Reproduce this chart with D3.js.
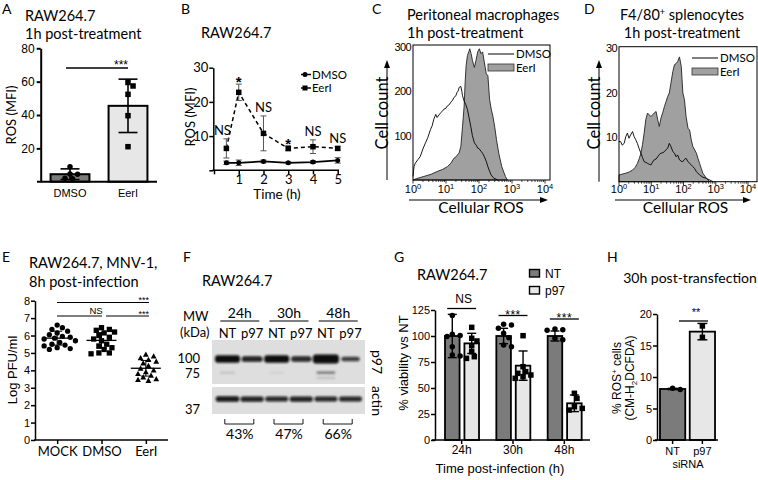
<!DOCTYPE html>
<html><head><meta charset="utf-8">
<script src="https://cdn.jsdelivr.net/npm/d3@7"></script>
<style>body{margin:0;background:#fff}svg{display:block}</style>
</head><body>
<svg id="c" width="758" height="480"></svg>
<script>
// ================= DATA =================
// A
const aCats = ["DMSO", "EerI"];
const aMean = [4.5, 45.5];
const aSD = [3.2, 16];
const aPts = [[9, 4.6, 4.4, 2.0, 1.7], [59.5, 57.4, 52.4, 39.6, 21]];
const aTicks = [20, 40, 60, 80];
// B
const bTime = [0.5, 1, 2, 3, 4, 5];
const bDMSO = [2.2, 2.2, 2.6, 2.2, 2.4, 2.9];
const bDMSOsd = [0.5, 0.8, 0.4, 0.3, 0.4, 0.8];
const bEerI = [6.4, 22.8, 10.8, 6.4, 6.9, 6.4];
const bEerIsd = [2.8, 2.4, 5.1, 0.7, 2.0, 0.5];
const bSig = ["NS", "*", "NS", "*", "NS", "NS"];
const bYTicks = [0, 10, 20, 30];
const bXTicks = [0, 1, 2, 3, 4, 5];
// C  [log10 ROS, cell count]
const cDMSO = [[0,8],[0.03,30],[0.07,38],[0.15,46],[0.22,53],[0.3,70],[0.38,84],[0.45,96],[0.53,114],[0.58,122],[0.63,137],[0.69,148],[0.73,141],[0.79,147],[0.84,152],[0.9,156],[0.94,160],[1.0,162],[1.04,167],[1.1,170],[1.14,175],[1.2,180],[1.24,186],[1.3,190],[1.33,197],[1.37,201],[1.4,209],[1.45,211],[1.48,200],[1.5,190],[1.55,178],[1.6,170],[1.65,159],[1.7,140],[1.75,121],[1.8,100],[1.86,84],[1.92,78],[1.96,72],[2.01,70],[2.06,65],[2.11,60],[2.16,53],[2.22,42],[2.27,30],[2.32,20],[2.37,11],[2.45,4],[2.57,0]];
const cEerI = [[0,0],[0.1,3],[0.33,8],[0.55,13],[0.73,19],[0.9,24],[1.04,30],[1.15,38],[1.24,49],[1.3,52],[1.36,58],[1.40,61],[1.45,76],[1.5,120],[1.55,167],[1.58,220],[1.61,258],[1.65,281],[1.69,289],[1.72,296],[1.76,285],[1.8,270],[1.86,254],[1.91,270],[1.96,289],[2.01,296],[2.06,285],[2.11,289],[2.16,266],[2.22,240],[2.27,235],[2.32,182],[2.37,160],[2.42,144],[2.48,118],[2.53,91],[2.6,60],[2.69,30],[2.8,8],[2.86,0]];
const cYTicks = [100, 200, 300];
// D
const dDMSO = [[0,9],[0.05,9.0],[0.1,8.2],[0.16,8.6],[0.21,10.1],[0.26,10.9],[0.31,9.75],[0.36,10.5],[0.42,11.25],[0.47,10.1],[0.52,9.4],[0.57,8.6],[0.62,7.5],[0.68,6.4],[0.73,5.4],[0.78,4.5],[0.84,4.3],[0.89,4.1],[0.94,3.9],[0.99,3.75],[1.04,4.4],[1.09,4.9],[1.15,5.1],[1.2,5.6],[1.25,6.1],[1.3,6.4],[1.36,6.5],[1.41,6.75],[1.46,7.2],[1.51,7.5],[1.56,8.6],[1.61,7.9],[1.67,6.75],[1.72,6.4],[1.77,5.6],[1.82,6.0],[1.875,4.9],[1.93,4.6],[1.98,4.5],[2.03,5.0],[2.08,5.25],[2.13,4.6],[2.19,4.1],[2.24,3.8],[2.29,3.4],[2.35,2.9],[2.4,2.25],[2.5,1.5],[2.6,1.0],[2.71,0.75],[2.92,0]];
const dEerI = [[0,1.5],[0.1,1.7],[0.21,1.9],[0.32,2.2],[0.42,2.6],[0.5,3.2],[0.57,4.1],[0.63,5.2],[0.68,6.4],[0.73,8.4],[0.78,10.9],[0.83,13.9],[0.885,15.4],[0.94,15.0],[0.99,14.6],[1.04,15.0],[1.09,15.4],[1.15,15.75],[1.2,13.9],[1.25,12.4],[1.30,14.25],[1.36,15.6],[1.41,16.9],[1.46,18.0],[1.51,19.1],[1.56,19.9],[1.61,22.1],[1.67,24.75],[1.72,26.25],[1.77,26.5],[1.82,27.0],[1.875,28.0],[1.93,25.9],[1.98,19.9],[2.03,18.4],[2.08,14.6],[2.14,12.0],[2.19,11.6],[2.24,9.4],[2.29,7.9],[2.35,7.1],[2.4,6.4],[2.45,5.2],[2.5,4.1],[2.55,3.0],[2.6,1.9],[2.71,0.75],[2.81,0]];
const dYTicks = [10, 20, 30];
const logDecades = [0, 1, 2, 3, 4];
// E
const eCats = ["MOCK", "DMSO", "EerI"];
const eMOCK = [6.6,6.45,6.35,6.25,6.15,6.05,5.95,5.9,5.85,5.8,5.7,5.6,5.5,5.45,5.4,5.3,5.25,5.2];
const eDMSO = [6.45,6.35,6.3,6.2,6.15,6.0,5.9,5.8,5.7,5.5,5.4,5.3,5.2,5.0,5.0,4.95];
const eEerI = [4.9,4.8,4.7,4.6,4.5,4.4,4.25,4.1,4.0,3.9,3.8,3.7,3.6,3.5,3.45,3.4];
const eMean = [5.85, 5.72, 4.12];
const eSD = [0.4, 0.45, 0.45];
const eTicks = [0,1,2,3,4,5,6,7,8];
// F
const fTimes = ["24h", "30h", "48h"];
const fLanes = ["NT", "p97", "NT", "p97", "NT", "p97"];
const fP97 = [1.0, 0.6, 1.0, 0.55, 1.3, 0.35];
const fBand75 = [0.12, 0, 0.06, 0, 0.55, 0];
const fActin = [0.85, 0.75, 0.7, 0.75, 0.7, 0.7];
const fPct = ["43%", "47%", "66%"];
const fMW = ["100", "75", "37"];
// G
const gGroups = ["24h", "30h", "48h"];
const gSeries = ["NT", "p97"];
const gMean = [[100, 92.9], [100, 71.5], [100, 35.3]];
const gSD = [[20.8, 9.7], [7.4, 14.1], [4.8, 8]];
const gPts = [
  [[119.6,101.6,99.4,100.5,89.7,81.7,80.8], [108.3,97.8,95.2,90.7,84.9,80.1,78.5]],
  [[111.2,110.6,107.4,102.6,98.4,91.3,89.7], [100.3,70.5,65.7,64.1,62.5,60.9,59.3]],
  [[106.7,106,105.5,97.8,96.5], [44.9,40,32,30.4,28.8]]
];
const gSig = ["NS", "***", "***"];
const gTicks = [0, 25, 50, 75, 100, 125];
// H
const hCats = ["NT", "p97"];
const hMean = [8.1, 17.2];
const hSD = [0.1, 1.3];
const hPts = [[8.2, 8.0], [18.1, 16.3]];
const hTicks = [0, 5, 10, 15, 20];

// ================= HELPERS =================
const svg = d3.select("#c");
const AR = '"Liberation Sans", Arial, sans-serif';
const LT = 'Lato, "Open Sans", sans-serif';
const DARK = "#7b7b7b", LIGHT = "#e7e7e7", HIST = "#a0a0a0";

function T(x, y, s, o = {}) {
  const t = svg.append("text").attr("x", x).attr("y", y).text(s)
    .attr("font-family", o.ff || LT).attr("font-size", o.fs || 14)
    .attr("text-anchor", o.a || "start").attr("fill", "#000");
  if (o.rot) t.attr("transform", `rotate(${o.rot},${x},${y})`);
  if (o.ls) t.attr("letter-spacing", o.ls);
  if (o.fw) t.attr("font-weight", o.fw);
  return t;
}
function styleAxis(ax, ff, fs, sw) {
  ax.select(".domain").attr("stroke-width", sw);
  ax.selectAll(".tick line").attr("stroke-width", sw);
  ax.selectAll("text").attr("font-family", ff).attr("font-size", fs).attr("fill", "#000");
}
function swarm(vals, y, cx, r) {
  const placed = [], out = [];
  const order = vals.map((v, i) => i).sort((a, b) => vals[b] - vals[a]);
  for (const i of order) {
    const yy = y(vals[i]);
    let k = 0, xx;
    while (true) {
      const off = k === 0 ? 0 : Math.ceil(k / 2) * (k % 2 ? 1 : -1) * r * 0.9;
      xx = cx + off;
      if (placed.every(p => (p.x - xx) ** 2 + (p.y - yy) ** 2 >= (1.9 * r) ** 2)) break;
      k++;
    }
    placed.push({ x: xx, y: yy }); out[i] = { x: xx, y: yy };
  }
  return out;
}
function marker(g, shape, x, y, s) {
  if (shape === "circle") g.append("circle").attr("cx", x).attr("cy", y).attr("r", s / 2).attr("fill", "#000");
  else if (shape === "square") g.append("rect").attr("x", x - s / 2).attr("y", y - s / 2).attr("width", s).attr("height", s).attr("fill", "#000");
  else g.append("path").attr("d", `M${x},${y - s * 0.6}L${x + s * 0.55},${y + s * 0.4}L${x - s * 0.55},${y + s * 0.4}Z`).attr("fill", "#000");
}
function errBar(g, x, y1, y2, cap, sw, col) {
  g.append("line").attr("x1", x).attr("x2", x).attr("y1", y1).attr("y2", y2).attr("stroke", col || "#000").attr("stroke-width", sw);
  [y1, y2].forEach(yy => g.append("line").attr("x1", x - cap / 2).attr("x2", x + cap / 2).attr("y1", yy).attr("y2", yy).attr("stroke", col || "#000").attr("stroke-width", sw));
}
function sup10(x, y, k, fs) {
  const t = T(x, y, "10", { ff: AR, fs: fs, a: "middle" });
  t.append("tspan").attr("dy", -4).attr("font-size", fs * 0.68).text(k);
}
function arrowUp(x, y0, y1) {
  svg.append("line").attr("x1", x).attr("x2", x).attr("y1", y0).attr("y2", y1 + 4).attr("stroke", "#000").attr("stroke-width", 1);
  svg.append("path").attr("d", `M${x},${y1}L${x + 3},${y1 + 8}L${x - 3},${y1 + 8}Z`).attr("fill", "#000");
}
function arrowRight(y, x0, x1) {
  svg.append("line").attr("x1", x0).attr("x2", x1 - 4).attr("y1", y).attr("y2", y).attr("stroke", "#000").attr("stroke-width", 1);
  svg.append("path").attr("d", `M${x1},${y}L${x1 - 8},${y - 3}L${x1 - 8},${y + 3}Z`).attr("fill", "#000");
}

// ================= PANEL LABELS =================
[["A", 2, 14], ["B", 181, 14], ["C", 372, 14], ["D", 584, 14], ["E", 2, 262], ["F", 183, 262], ["G", 394, 262], ["H", 607, 262]]
  .forEach(([s, x, y]) => T(x, y, s, { fs: 14 }));

// ================= A =================
{
  const g = svg.append("g");
  T(25, 21, "RAW264.7", { fs: 14.5 });
  T(25, 39, "1h post-treatment", { fs: 14.5 });
  const y = d3.scaleLinear().domain([0, 80]).range([181.7, 48.3]);
  const x = d3.scaleBand().domain(aCats).range([41, 157]).paddingInner(0.33).paddingOuter(0.165);
  const fills = [DARK, LIGHT];
  aCats.forEach((c, i) => {
    g.append("rect").attr("x", x(c)).attr("y", y(aMean[i])).attr("width", x.bandwidth()).attr("height", y(0) - y(aMean[i]))
      .attr("fill", fills[i]).attr("stroke", "#000").attr("stroke-width", 2);
  });
  aCats.forEach((c, i) => {
    const cx = x(c) + x.bandwidth() / 2;
    errBar(g, cx, y(aMean[i] + aSD[i]), y(aMean[i] - aSD[i]), 19, 1.6);
    swarm(aPts[i], y, cx, 2.8).forEach(p => marker(g, i ? "square" : "circle", p.x, p.y, 5.5));
  });
  const ax = g.append("g").attr("transform", "translate(40.7,0)").call(d3.axisLeft(y).tickValues(aTicks).tickSize(4).tickSizeOuter(0).tickPadding(2));
  styleAxis(ax, AR, 12, 2);
  const bx = g.append("g").attr("transform", "translate(0,181.7)").call(d3.axisBottom(x).tickSize(0).tickPadding(8));
  styleAxis(bx, AR, 11, 2);
  bx.select(".domain").attr("d", "M37,0H157");
  T(16, 115, "ROS (MFI)", { fs: 13, a: "middle", rot: -90 });
  g.append("line").attr("x1", 66).attr("x2", 128).attr("y1", 68).attr("y2", 68).attr("stroke", "#000").attr("stroke-width", 1.5);
  T(128, 69, "***", { ff: AR, fs: 12, a: "end" });
}

// ================= B =================
{
  const g = svg.append("g");
  T(201, 38, "RAW264.7", { fs: 14.5 });
  const x = d3.scaleLinear().domain([0, 5]).range([214, 337.7]);
  const y = d3.scaleLinear().domain([0, 30]).range([170.3, 67.7]);
  const ay = g.append("g").attr("transform", "translate(213.3,0)").call(d3.axisLeft(y).tickValues(bYTicks).tickFormat(d => d ? d : "").tickSize(4).tickSizeOuter(0).tickPadding(1));
  styleAxis(ay, LT, 13, 1.5);
  const ax = g.append("g").attr("transform", "translate(0,170.3)").call(d3.axisBottom(x).tickValues(bXTicks).tickFormat(d => d ? d : "").tickSize(4).tickSizeOuter(0).tickPadding(0));
  styleAxis(ax, LT, 13, 1.5);
  ax.select(".domain").attr("d", "M212.5,0H339");
  const lineE = d3.line().x((d, i) => x(bTime[i])).y(d => y(d));
  g.append("path").attr("d", lineE(bDMSO)).attr("fill", "none").attr("stroke", "#000").attr("stroke-width", 1.8);
  g.append("path").attr("d", lineE(bEerI)).attr("fill", "none").attr("stroke", "#000").attr("stroke-width", 1.5).attr("stroke-dasharray", "4,3");
  bTime.forEach((t, i) => {
    errBar(g, x(t), y(bDMSO[i] + bDMSOsd[i]), y(bDMSO[i] - bDMSOsd[i]), 6, 1, "#555");
    errBar(g, x(t), y(bEerI[i] + bEerIsd[i]), y(bEerI[i] - bEerIsd[i]), 6, 1, "#555");
    marker(g, "circle", x(t), y(bDMSO[i]), 5);
    marker(g, "square", x(t), y(bEerI[i]), 5.5);
    const top = y(bEerI[i] + bEerIsd[i]);
    if (bSig[i] === "*") T(x(t), top + 3, "*", { ff: AR, fs: 15, a: "middle", fw: "bold" });
    else T(x(t) - (i === 0 ? 4 : 0), top - 4, "NS", { fs: 13, a: "middle" });
  });
  // legend
  g.append("line").attr("x1", 301).attr("x2", 311).attr("y1", 74.5).attr("y2", 74.5).attr("stroke", "#000").attr("stroke-width", 1.5);
  marker(g, "circle", 305, 74.5, 5);
  T(312, 78.5, "DMSO", { fs: 11.5 });
  g.append("line").attr("x1", 301).attr("x2", 311).attr("y1", 88).attr("y2", 88).attr("stroke", "#000").attr("stroke-width", 1.5);
  marker(g, "square", 305, 88, 5);
  T(312, 92, "EerI", { fs: 11.5 });
  T(195, 117, "ROS (MFI)", { fs: 13, a: "middle", rot: -90 });
  T(277, 199, "Time (h)", { fs: 13.5, a: "middle" });
}

// ================= C & D (histograms) =================
function histPanel(opt) {
  const g = svg.append("g");
  const x = d3.scaleLinear().domain([0, 4]).range(opt.xr);
  const y = d3.scaleLinear().domain([0, opt.ymax]).range(opt.yr);
  const area = d3.area().x(d => x(d[0])).y0(y(0)).y1(d => y(d[1]));
  const line = d3.line().x(d => x(d[0])).y(d => y(d[1]));
  g.append("path").attr("d", area(opt.eer)).attr("fill", HIST).attr("stroke", "#222").attr("stroke-width", 0.9);
  g.append("path").attr("d", line(opt.dmso)).attr("fill", "none").attr("stroke", "#000").attr("stroke-width", 0.9);
  g.append("rect").attr("x", opt.box[0]).attr("y", opt.box[1]).attr("width", opt.box[2] - opt.box[0]).attr("height", opt.box[3] - opt.box[1])
    .attr("fill", "none").attr("stroke", "#000").attr("stroke-width", 1);
  opt.yt.forEach(v => T(opt.box[0] - 2, y(v) + 4, v, { ff: AR, fs: 11, a: "end", ls: -0.6 }));
  logDecades.forEach(k => {
    sup10(x(k), 193, k, 11);
    if (k < 4) d3.range(2, 10).forEach(m => {
      const xx = x(k + Math.log10(m));
      g.append("line").attr("x1", xx).attr("x2", xx).attr("y1", opt.box[3]).attr("y2", opt.box[3] + 2).attr("stroke", "#000").attr("stroke-width", 0.7);
    });
    g.append("line").attr("x1", x(k)).attr("x2", x(k)).attr("y1", opt.box[3]).attr("y2", opt.box[3] + 3.5).attr("stroke", "#000").attr("stroke-width", 0.8);
  });
  arrowUp(opt.ax, opt.box[3], 60);
  arrowRight(200, opt.xr[0] - 4, opt.xr[1] + 3);
  T(opt.ax + 1, 113, "Cell count", { fs: 16.5, a: "middle", rot: -90 });
  T((opt.xr[0] + opt.xr[1]) / 2 + 2, 213, "Cellular ROS", { fs: 15.5, a: "middle" });
  // legend
  const lx = opt.lx, ly = opt.ly;
  g.append("line").attr("x1", lx).attr("x2", lx + 26).attr("y1", ly).attr("y2", ly).attr("stroke", "#000").attr("stroke-width", 1);
  T(lx + 28, ly + 4, "DMSO", { fs: 11.5 });
  g.append("rect").attr("x", lx).attr("y", ly + 10).attr("width", 26).attr("height", 7).attr("fill", HIST).attr("stroke", "#333").attr("stroke-width", 0.8);
  T(lx + 28, ly + 18, "EerI", { fs: 11.5 });
}
T(407, 20, "Peritoneal macrophages", { fs: 14.5 });
T(407, 38, "1h post-treatment", { fs: 14.5 });
histPanel({ xr: [413, 545], yr: [180, 47], ymax: 300, box: [413, 45, 550, 180], eer: cEerI, dmso: cDMSO, yt: cYTicks, ax: 387, lx: 488, ly: 54 });
{
  const t = T(682, 20, "F4/80", { fs: 14.5, a: "middle" });
  t.append("tspan").attr("dy", -5).attr("font-size", 9).text("+");
  t.append("tspan").attr("dy", 5).text(" splenocytes");
}
T(682, 38, "1h post-treatment", { fs: 14.5, a: "middle" });
histPanel({ xr: [619, 748], yr: [181.7, 48], ymax: 30, box: [619, 46.7, 757, 181.7], eer: dEerI, dmso: dDMSO, yt: dYTicks, ax: 599, lx: 692, ly: 58 });

// ================= E =================
{
  const g = svg.append("g");
  T(29, 268, "RAW264.7, MNV-1,", { fs: 14.5 });
  T(29, 287, "8h post-infection", { fs: 14.5 });
  const y = d3.scaleLinear().domain([0, 8]).range([440, 300.7]);
  const x = d3.scalePoint().domain(eCats).range([35, 168]).padding(0.5);
  const ay = g.append("g").attr("transform", "translate(35,0)").call(d3.axisLeft(y).tickValues(eTicks).tickSize(4).tickSizeOuter(0).tickPadding(1));
  styleAxis(ay, AR, 11, 1.5);
  const ax = g.append("g").attr("transform", "translate(0,440)").call(d3.axisBottom(x).tickSize(4).tickSizeOuter(0).tickPadding(3));
  styleAxis(ax, LT, 13, 1.5);
  ax.select(".domain").attr("d", "M34,0H168");
  const sets = [eMOCK, eDMSO, eEerI], shapes = ["circle", "square", "tri"];
  sets.forEach((vals, i) => {
    const cx = x(eCats[i]);
    swarm(vals, y, cx, 2.9).forEach(p => marker(g, shapes[i], p.x, p.y, 5.3));
    g.append("line").attr("x1", cx - 15).attr("x2", cx + 15).attr("y1", y(eMean[i])).attr("y2", y(eMean[i])).attr("stroke", "#000").attr("stroke-width", 1.3);
    errBar(g, cx, y(eMean[i] + eSD[i]), y(eMean[i] - eSD[i]), 10, 1);
  });
  g.append("line").attr("x1", 57).attr("x2", 149).attr("y1", 302.5).attr("y2", 302.5).attr("stroke", "#000").attr("stroke-width", 1.2);
  T(149, 303, "***", { ff: AR, fs: 9, a: "end" });
  g.append("line").attr("x1", 57).attr("x2", 102).attr("y1", 316).attr("y2", 316).attr("stroke", "#000").attr("stroke-width", 1.2);
  g.append("line").attr("x1", 106).attr("x2", 149).attr("y1", 316).attr("y2", 316).attr("stroke", "#000").attr("stroke-width", 1.2);
  T(96, 314, "NS", { ff: AR, fs: 9.5, a: "middle" });
  T(149, 316.5, "***", { ff: AR, fs: 9, a: "end" });
  T(17, 370, "Log PFU/ml", { ff: AR, fs: 13, a: "middle", rot: -90 });
}

// ================= F (western blot) =================
{
  const g = svg.append("g");
  const defs = svg.append("defs");
  defs.append("filter").attr("id", "blur").attr("x", "-30%").attr("y", "-100%").attr("width", "160%").attr("height", "300%")
    .append("feGaussianBlur").attr("stdDeviation", 1.0);
  T(202, 286, "RAW264.7", { fs: 14.5 });
  T(183, 321, "MW", { fs: 13 });
  T(180, 337, "(kDa)", { fs: 13 });
  const lane = d3.scalePoint().domain(d3.range(6)).range([227.5, 350.5]);
  const grp = i => (lane(2 * i) + lane(2 * i + 1)) / 2;
  fTimes.forEach((t, i) => {
    T(grp(i), 318, t, { fs: 14, a: "middle" });
    g.append("line").attr("x1", grp(i) - 19.5).attr("x2", grp(i) + 19.5).attr("y1", 321).attr("y2", 321).attr("stroke", "#000").attr("stroke-width", 1.2);
  });
  fLanes.forEach((l, i) => T(lane(i), 338, l, { fs: 13, a: "middle" }));
  g.append("rect").attr("x", 212).attr("y", 340).attr("width", 153).attr("height", 44).attr("fill", "#dedede");
  g.append("rect").attr("x", 212).attr("y", 387).attr("width", 153).attr("height", 27).attr("fill", "#dedede");
  const bands = g.append("g").attr("filter", "url(#blur)");
  fP97.forEach((v, i) => {
    const w = 15 + 10 * Math.min(v, 1.1), h = 3 + 4.5 * v;
    bands.append("rect").attr("x", lane(i) - w / 2).attr("y", 359 - h / 2).attr("width", w).attr("height", h).attr("rx", 3).attr("fill", "#0a0a0a").attr("opacity", Math.min(1, 0.6 + v * 0.5));
  });
  fBand75.forEach((v, i) => {
    if (!v) return;
    const w = 14 + 8 * v;
    bands.append("rect").attr("x", lane(i) - w / 2).attr("y", 371.5).attr("width", w).attr("height", 2.4).attr("fill", "#222").attr("opacity", v);
    if (v > 0.3) bands.append("rect").attr("x", lane(i) - w / 2).attr("y", 377).attr("width", w).attr("height", 1.6).attr("fill", "#444").attr("opacity", v * 0.5);
  });
  fActin.forEach((v, i) => {
    const w = 20 + 4 * v, h = 3 + 3 * v;
    bands.append("rect").attr("x", lane(i) - w / 2).attr("y", 399 - h / 2).attr("width", w).attr("height", h).attr("rx", 2).attr("fill", "#0a0a0a").attr("opacity", 0.6 + v * 0.4);
  });
  T(200, 363, fMW[0], { fs: 13, a: "end" });
  T(200, 378, fMW[1], { fs: 13, a: "end" });
  T(200, 414, fMW[2], { fs: 13, a: "end" });
  T(372, 362, "p97", { fs: 14, a: "middle", rot: 90 });
  T(372, 401, "actin", { fs: 14, a: "middle", rot: 90 });
  fPct.forEach((p, i) => {
    const c = grp(i);
    g.append("path").attr("d", `M${c - 15},419V424H${c + 14}V419`).attr("fill", "none").attr("stroke", "#000").attr("stroke-width", 0.9);
    T(c, 439, p, { fs: 14, a: "middle" });
  });
}

// ================= G =================
{
  const g = svg.append("g");
  T(417, 280, "RAW264.7", { fs: 14.5 });
  const y = d3.scaleLinear().domain([0, 125]).range([440, 310]);
  const x = d3.scaleBand().domain(gGroups).range([436, 590]);
  const xs = d3.scaleBand().domain(gSeries).range([9, 43]).paddingInner(0.25);
  const fills = [DARK, LIGHT];
  gGroups.forEach((gr, i) => {
    gSeries.forEach((s, j) => {
      const bx = x(gr) + xs(s);
      g.append("rect").attr("x", bx).attr("y", y(gMean[i][j])).attr("width", xs.bandwidth()).attr("height", y(0) - y(gMean[i][j]))
        .attr("fill", fills[j]).attr("stroke", "#000").attr("stroke-width", 1.8);
    });
  });
  gGroups.forEach((gr, i) => {
    gSeries.forEach((s, j) => {
      const cx = x(gr) + xs(s) + xs.bandwidth() / 2;
      errBar(g, cx, y(gMean[i][j] + gSD[i][j]), y(gMean[i][j] - gSD[i][j]), 9, 1.4);
      swarm(gPts[i][j], y, cx, 2.9).forEach(p => marker(g, j ? "square" : "circle", p.x, p.y, 5.5));
    });
  });
  const ay = g.append("g").attr("transform", "translate(435,0)").call(d3.axisLeft(y).tickValues(gTicks).tickSize(4).tickSizeOuter(0).tickPadding(1));
  styleAxis(ay, AR, 11, 1.5);
  const ax = g.append("g").attr("transform", "translate(0,440)").call(d3.axisBottom(x).tickSize(4).tickSizeOuter(0).tickPadding(1));
  styleAxis(ax, AR, 12, 1.5);
  ax.select(".domain").attr("d", "M432,0H590");
  const sigY = [308.5, 315.5, 319];
  gGroups.forEach((gr, i) => {
    const c = x(gr) + x.bandwidth() / 2;
    g.append("line").attr("x1", c - 14.5).attr("x2", c + 14.5).attr("y1", sigY[i]).attr("y2", sigY[i]).attr("stroke", "#000").attr("stroke-width", 1.3);
    if (gSig[i] === "NS") T(c + 2, 303, "NS", { ff: AR, fs: 12, a: "middle" });
    else T(c, sigY[i] + 3, gSig[i], { ff: AR, fs: 12, a: "middle", ls: 0.5 });
  });
  gSeries.forEach((s, j) => {
    g.append("rect").attr("x", 529.5).attr("y", 269.5 + j * 17).attr("width", 10).attr("height", 7.5).attr("fill", fills[j]).attr("stroke", "#000").attr("stroke-width", 1.4);
    T(545, 277.5 + j * 17, s, { ff: AR, fs: 12 });
  });
  T(408, 363, "% viability vs NT", { ff: AR, fs: 13, a: "middle", rot: -90 });
  T(500, 473, "Time post-infection (h)", { ff: AR, fs: 13, a: "middle" });
}

// ================= H =================
{
  const g = svg.append("g");
  T(690, 283, "30h post-transfection", { fs: 14, a: "middle" });
  const y = d3.scaleLinear().domain([0, 20]).range([440, 314]);
  const x = d3.scaleBand().domain(hCats).range([657, 718]).paddingInner(0.15).paddingOuter(0.1);
  const fills = [DARK, LIGHT];
  hCats.forEach((c, i) => {
    g.append("rect").attr("x", x(c)).attr("y", y(hMean[i])).attr("width", x.bandwidth()).attr("height", y(0) - y(hMean[i]))
      .attr("fill", fills[i]).attr("stroke", "#000").attr("stroke-width", 1.8);
  });
  hCats.forEach((c, i) => {
    const cx = x(c) + x.bandwidth() / 2;
    errBar(g, cx, y(hMean[i] + hSD[i]), y(hMean[i] - hSD[i]), 10, 1.4);
    swarm(hPts[i], y, cx, 2.8).forEach(p => marker(g, i ? "square" : "circle", p.x, p.y, 5.5));
  });
  const ay = g.append("g").attr("transform", "translate(657,0)").call(d3.axisLeft(y).tickValues(hTicks).tickSize(4).tickSizeOuter(0).tickPadding(1));
  styleAxis(ay, AR, 11, 1.5);
  const ax = g.append("g").attr("transform", "translate(0,440)").call(d3.axisBottom(x).tickSize(4).tickSizeOuter(0).tickPadding(3));
  styleAxis(ax, AR, 11, 1.5);
  ax.select(".domain").attr("d", "M655,0H718");
  T(688, 468, "siRNA", { ff: AR, fs: 11, a: "middle" });
  g.append("line").attr("x1", 679).attr("x2", 708).attr("y1", 321).attr("y2", 321).attr("stroke", "#000").attr("stroke-width", 1.3);
  T(696, 316, "**", { ff: AR, fs: 11, a: "middle" });
  const l1 = T(621, 378, "% ROS", { ff: AR, fs: 12, a: "middle", rot: -90 });
  l1.append("tspan").attr("dy", -4).attr("font-size", 8).text("+");
  l1.append("tspan").attr("dy", 4).text(" cells");
  const l2 = T(634, 378, "(CM-H", { ff: AR, fs: 12, a: "middle", rot: -90 });
  l2.append("tspan").attr("dy", 3).attr("font-size", 8).text("2");
  l2.append("tspan").attr("dy", -3).text("DCFDA)");
}
</script>
</body></html>
